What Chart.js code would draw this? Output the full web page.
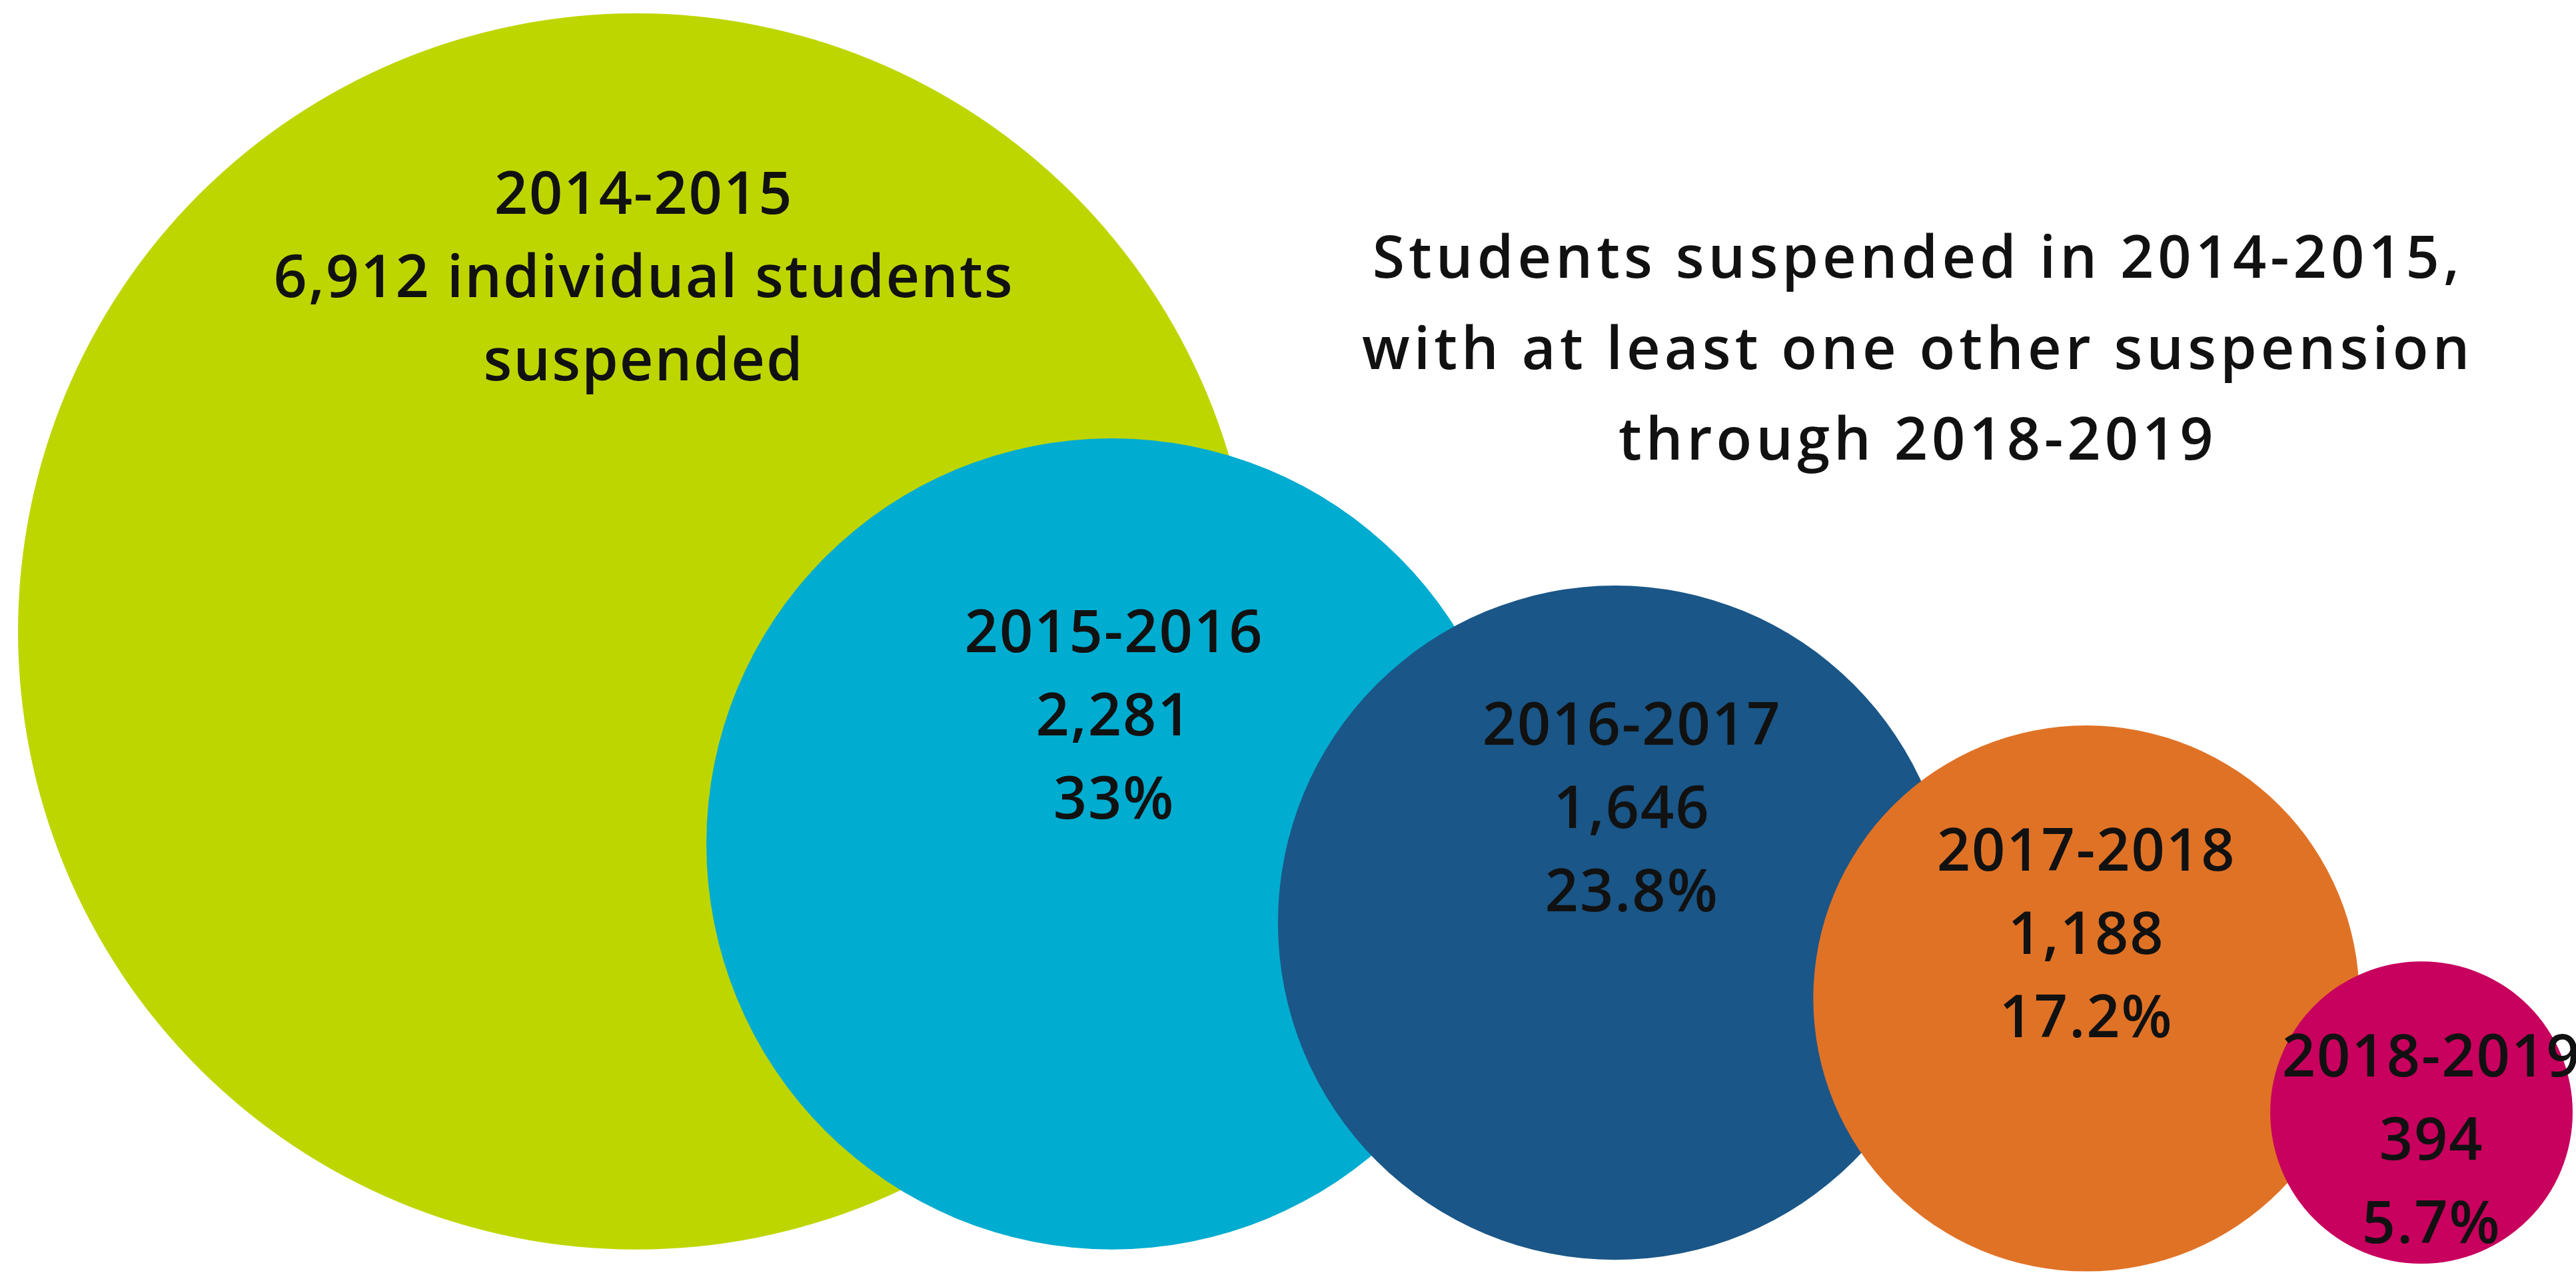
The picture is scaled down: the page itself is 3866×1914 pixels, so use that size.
<!DOCTYPE html>
<html>
<head>
<meta charset="utf-8">
<title>Students suspended 2014-2015</title>
<script src="https://cdn.jsdelivr.net/npm/chart.js@4.4.1/dist/chart.umd.min.js"></script>
<style>
  html, body { margin: 0; padding: 0; background: #fff; overflow: hidden; }
  #wrap { width: 3866px; height: 1914px; }
</style>
</head>
<body>
<div id="wrap"><canvas id="myChart"></canvas></div>
<script>
// school years
const years = ['2014-2015', '2015-2016', '2016-2017', '2017-2018', '2018-2019'];
// students of the 2014-2015 group suspended in each year
const students = [6912, 2281, 1646, 1188, 394];
// share of the 6,912
const percents = ['', '33%', '23.8%', '17.2%', '5.7%'];
const colors = ['#bed600', '#00acd0', '#1a5687', '#e07226', '#c8005e'];

// circle layout, in chart units (x 0..100)
const bubbleX = [24.7, 43.17, 62.7, 80.99, 94.0];
const bubbleY = [24.52, 32.77, 35.83, 38.77, 43.2];
const bubbleR = [24.0, 15.75, 13.09, 10.6, 5.87];

// first text line of every circle
const labelX = [24.99, 43.25, 63.35, 80.99, 94.39];
const labelY = [7.65, 24.67, 28.27, 33.16, 41.15];
const lineStep = 3.23;

const titleLines = [
  'Students suspended in 2014-2015,',
  'with at least one other suspension',
  'through 2018-2019',
];
const titleX = 74.45;
const titleY = 10.15;
const titleStep = 3.52;

const FONT = "600 88px 'Open Sans'";

// lines of text in a circle
function linesFor(i) {
  const n = students[i].toLocaleString('en-US');
  if (i === 0) return [years[i], n + ' individual students', 'suspended'];
  return [years[i], n, percents[i]];
}

// draw the texts on top of the circles
const textPlugin = {
  id: 'textPlugin',
  afterDatasetsDraw(chart) {
    const { ctx, scales: { x, y } } = chart;
    const step = y.getPixelForValue(lineStep) - y.getPixelForValue(0);
    const tStep = y.getPixelForValue(titleStep) - y.getPixelForValue(0);
    ctx.save();
    ctx.font = FONT;
    ctx.fillStyle = '#111111';
    ctx.textAlign = 'center';
    ctx.textBaseline = 'middle';
    ctx.letterSpacing = '2px';
    for (let i = 0; i < years.length; i++) {
      const px = x.getPixelForValue(labelX[i]);
      const py = y.getPixelForValue(labelY[i]);
      linesFor(i).forEach((t, k) => ctx.fillText(t, px, py + k * step));
    }
    ctx.letterSpacing = '6px';
    const tx = x.getPixelForValue(titleX);
    const ty = y.getPixelForValue(titleY);
    titleLines.forEach((t, k) => ctx.fillText(t, tx, ty + k * tStep));
    ctx.restore();
  },
};

const data = {
  datasets: [
    {
      label: 'Students suspended',
      data: years.map((yr, i) => ({ x: bubbleX[i], y: bubbleY[i] })),
      backgroundColor: colors,
      borderWidth: 0,
      // radius in chart units, turned into pixels by the x scale
      pointRadius: (c) => {
        const xs = c.chart.scales.x;
        return xs.getPixelForValue(bubbleR[c.dataIndex]) - xs.getPixelForValue(0);
      },
      pointHoverRadius: (c) => {
        const xs = c.chart.scales.x;
        return xs.getPixelForValue(bubbleR[c.dataIndex]) - xs.getPixelForValue(0);
      },
      clip: false,
    },
  ],
};

const options = {
  responsive: true,
  maintainAspectRatio: false,
  animation: false,
  events: [],
  layout: { padding: 0 },
  scales: {
    x: { type: 'linear', min: 0, max: 100, display: false },
    y: { type: 'linear', min: 0, max: 49.51, reverse: true, display: false },
  },
  plugins: {
    legend: { display: false },
    tooltip: { enabled: false },
  },
};

const ctx = document.getElementById('myChart').getContext('2d');
const chart = new Chart(ctx, {
  type: 'scatter',
  data: data,
  options: options,
  plugins: [textPlugin],
});
</script>
</body>
</html>
